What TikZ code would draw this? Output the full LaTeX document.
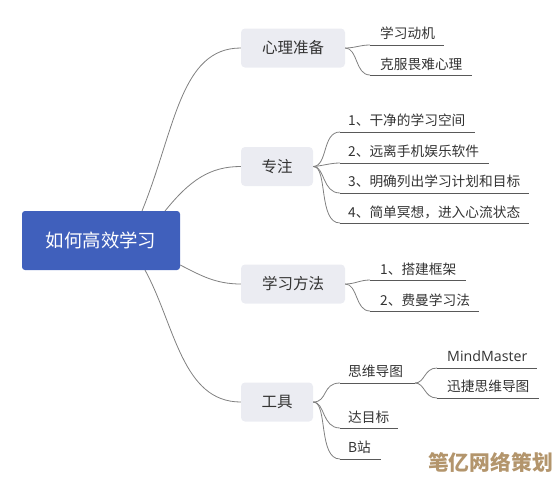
\documentclass[tikz,border=0pt]{standalone}
\usepackage{fontspec}
\setmainfont{Noto Sans CJK SC}
\newfontfamily\latinfont{Open Sans}
\usetikzlibrary{backgrounds,positioning}

\begin{document}
\begin{tikzpicture}[
  x=1pt, y=-1pt,
  every node/.style={font=\fontsize{13.7}{16}\selectfont, text=black!80},
  rootBox/.style={rectangle, rounded corners=3pt, fill=rootBlue, text=white,
    minimum width=158pt, minimum height=59pt, inner sep=0pt,
    font=\fontsize{18.4}{20}\selectfont},
  topicBox/.style={rectangle, rounded corners=4pt, fill=topicGray, minimum height=39pt,
    inner sep=0pt, font=\fontsize{15.5}{18}\selectfont},
  leafText/.style={anchor=west, inner sep=0pt},
  branch/.style={draw=black!50, line width=0.8pt},
  rule/.style={draw=black!65, line width=0.7pt},
  markText/.style={inner sep=0pt, text=markBrown, font=\fontsize{20.8}{22}\selectfont\bfseries}
]
\definecolor{rootBlue}{HTML}{4060BC}
\definecolor{topicGray}{HTML}{EBECF2}
\definecolor{markBrown}{HTML}{B3956C}
\useasboundingbox (0,0) rectangle (559,480);

\node[rootBox] (root) at (101,240.5) {如何高效学习};

\node[topicBox, minimum width=104pt] (mind) at (293,48) {心理准备};
\node[topicBox, minimum width=72pt] (focus) at (277,166.5) {专注};
\node[topicBox, minimum width=104pt] (method) at (293,284) {学习方法};
\node[topicBox, minimum width=72pt] (tools) at (277,402) {工具};

% Leaf texts, each sits on its own rule.
\node[leafText] (motive) at (380,33.5) {学习动机};
\node[leafText] (fear) at (380,64) {克服畏难心理};
\node[leafText] (space) at (348,120.5) {1、干净的学习空间};
\node[leafText] (phone) at (348,151) {2、远离手机娱乐软件};
\node[leafText] (plan) at (348,181.5) {3、明确列出学习计划和目标};
\node[leafText] (calm) at (348,212) {4、简单冥想，进入心流状态};
\node[leafText] (frame) at (380,269) {1、搭建框架};
\node[leafText] (feynman) at (380,300) {2、费曼学习法};
\node[leafText] (map) at (348,371) {思维导图};
\node[leafText] (target) at (348,417) {达目标};
\node[leafText] (bili) at (348,447) {B站};
\node[leafText, font=\fontsize{14.2}{16}\selectfont] (master) at (447,356) {{\latinfont MindMaster}};
\node[leafText] (swift) at (447,386) {迅捷思维导图};

\coordinate (motiveA) at (370,45);
\coordinate (motiveB) at (444,45);
\coordinate (fearA) at (370,75);
\coordinate (fearB) at (472,75);
\coordinate (spaceA) at (340,132);
\coordinate (spaceB) at (475,132);
\coordinate (phoneA) at (340,163);
\coordinate (phoneB) at (489,163);
\coordinate (planA) at (340,193);
\coordinate (planB) at (529,193);
\coordinate (calmA) at (340,223);
\coordinate (calmB) at (529,223);
\coordinate (frameA) at (370,280);
\coordinate (frameB) at (466,280);
\coordinate (feynmanA) at (370,311);
\coordinate (feynmanB) at (479,311);
\coordinate (mapA) at (340,383);
\coordinate (mapB) at (415,383);
\coordinate (targetA) at (340,428);
\coordinate (targetB) at (398,428);
\coordinate (biliA) at (340,459);
\coordinate (biliB) at (381,459);
\coordinate (masterA) at (437,368);
\coordinate (masterB) at (537,368);
\coordinate (swiftA) at (437,398);
\coordinate (swiftB) at (539,398);

% Connectors from the root run behind its box.
\begin{scope}[on background layer]
\draw[branch] (root.center) ++(41,-29.5) .. controls (175,130) and (180,48) .. (mind.west);
\draw[branch] (root.center) ++(64,-29.5) .. controls (190,180) and (210,166.5) .. (focus.west);
\draw[branch] (root.east) ++(0,24.5) .. controls (200,275) and (215,284) .. (method.west);
\draw[branch] (root.center) ++(44,29.5) .. controls (175,325) and (182,402) .. (tools.west);
\end{scope}

\draw[branch] (mind.east) .. controls (355,48) and (360,45) .. (motiveA);
\draw[branch] (mind.east) .. controls (358,48) and (355,75) .. (fearA);
\draw[branch] (focus.east) .. controls (328,166) and (322,132) .. (spaceA);
\draw[branch] (focus.east) .. controls (322,166) and (330,163) .. (phoneA);
\draw[branch] (focus.east) .. controls (325,166) and (322,193) .. (planA);
\draw[branch] (focus.east) .. controls (328,166) and (318,223) .. (calmA);
\draw[branch] (method.east) .. controls (355,284) and (360,280) .. (frameA);
\draw[branch] (method.east) .. controls (358,284) and (355,311) .. (feynmanA);
\draw[branch] (tools.east) .. controls (328,402) and (322,383) .. (mapA);
\draw[branch] (tools.east) .. controls (325,402) and (322,428) .. (targetA);
\draw[branch] (tools.east) .. controls (328,402) and (318,459) .. (biliA);
\draw[branch] (mapB) .. controls (425,383) and (424,368) .. (masterA);
\draw[branch] (mapB) .. controls (425,383) and (424,398) .. (swiftA);

\draw[rule] (motiveA) -- (motiveB);
\draw[rule] (fearA) -- (fearB);
\draw[rule] (spaceA) -- (spaceB);
\draw[rule] (phoneA) -- (phoneB);
\draw[rule] (planA) -- (planB);
\draw[rule] (calmA) -- (calmB);
\draw[rule] (frameA) -- (frameB);
\draw[rule] (feynmanA) -- (feynmanB);
\draw[rule] (mapA) -- (mapB);
\draw[rule] (targetA) -- (targetB);
\draw[rule] (biliA) -- (biliB);
\draw[rule] (masterA) -- (masterB);
\draw[rule] (swiftA) -- (swiftB);

\node[markText] (stamp) at (490.5,462) {笔亿网络策划};
\end{tikzpicture}
\end{document}
